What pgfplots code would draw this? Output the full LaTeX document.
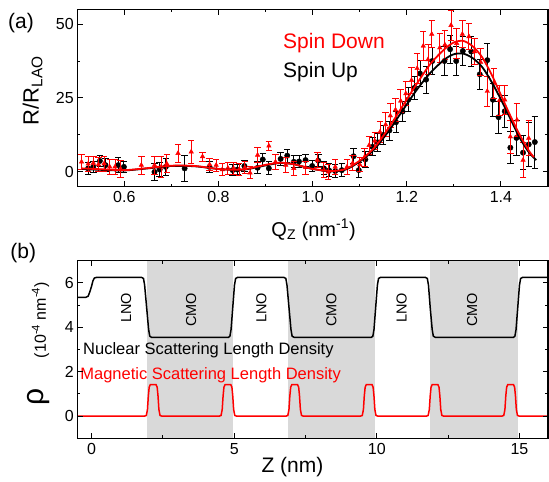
\documentclass[border=0pt]{standalone}
\usepackage{fontspec}
\setmainfont{Liberation Sans}
\usepackage{pgfplots}
\usepackage{pgfplotstable}
\pgfplotsset{compat=1.18}
\definecolor{band}{RGB}{217,217,217}

% spin up (black) reflectivity ratio
\pgfplotstableread{
q r e
0.523 1.2 2.0
0.534 1.7 2.0
0.548 3.7 2.0
0.560 2.3 2.2
0.587 2.3 2.5
0.599 1.7 2.0
0.664 0.0 2.8
0.675 0.8 2.5
0.688 1.7 3.0
0.728 1.2 4.4
0.781 1.7 2.0
0.830 0.6 1.8
0.840 0.8 1.8
0.855 2.0 1.8
0.883 1.4 2.0
0.894 4.2 2.0
0.907 1.2 2.2
0.932 4.4 2.2
0.946 5.5 2.2
0.960 3.4 2.0
0.971 3.5 2.0
0.985 4.0 2.0
0.999 2.0 2.0
1.012 3.8 2.0
1.024 1.2 2.2
1.035 0.5 2.2
1.048 0.3 2.2
1.062 0.6 2.2
1.087 5.3 2.5
1.098 0.6 2.5
1.112 4.2 2.8
1.127 8.5 3.0
1.138 10.0 3.0
1.150 12.5 3.2
1.163 14.0 3.2
1.177 16.8 3.5
1.191 20.4 3.5
1.203 24.4 4.0
1.216 28.4 4.0
1.228 33.3 4.5
1.241 31.2 4.5
1.254 37.5 4.5
1.280 37.5 4.8
1.292 41.5 4.8
1.305 37.5 4.8
1.319 40.9 5.0
1.337 40.7 5.0
1.355 33.0 5.0
1.371 37.8 5.5
1.383 24.4 5.5
1.395 18.5 5.5
1.408 20.5 5.5
1.420 8.2 5.5
1.433 11.5 6.0
1.447 6.5 5.7
1.459 9.3 7.4
1.472 10.1 8.8
}\spinup

% spin down (red)
\pgfplotstableread{
q r e
0.509 3.4 2.5
0.523 2.7 2.5
0.534 3.0 2.2
0.545 2.5 2.5
0.557 2.8 2.5
0.569 1.7 2.5
0.580 1.7 2.5
0.592 1.0 3.0
0.636 2.3 3.0
0.664 2.3 3.0
0.678 1.7 3.5
0.690 2.8 3.0
0.714 6.3 3.1
0.742 6.8 3.9
0.766 5.2 1.5
0.781 2.5 2.0
0.795 2.3 2.0
0.808 0.8 2.0
0.820 1.3 2.0
0.832 1.2 2.0
0.844 0.9 2.0
0.856 1.5 2.0
0.867 -0.3 2.0
0.883 5.7 2.5
0.907 8.8 1.6
0.921 3.4 2.5
0.943 2.3 2.5
0.960 1.2 2.5
0.985 1.5 2.2
1.010 4.0 2.5
1.024 0.6 2.5
1.033 0.0 2.5
1.048 1.7 2.5
1.073 1.7 2.5
1.085 3.0 2.5
1.100 2.5 2.5
1.110 5.0 3.0
1.120 9.0 3.0
1.132 10.5 3.0
1.143 13.5 3.5
1.155 16.0 4.0
1.165 19.0 4.0
1.176 21.0 4.0
1.187 24.0 4.0
1.198 26.5 4.0
1.210 31.0 4.5
1.222 35.0 5.0
1.235 42.6 5.0
1.245 38.0 5.0
1.253 46.6 4.5
1.270 42.0 5.0
1.281 43.0 5.0
1.294 49.6 5.0
1.306 43.5 5.0
1.318 46.6 4.5
1.332 45.8 4.5
1.344 40.7 4.5
1.357 37.1 4.5
1.371 27.3 5.0
1.385 30.0 5.0
1.397 24.2 5.0
1.408 24.4 5.0
1.420 11.9 5.5
1.434 17.6 5.5
1.447 4.0 6.0
1.459 11.4 6.0
}\spindown

\begin{document}
\begin{tikzpicture}
\useasboundingbox (0pt,0pt) rectangle (549pt,-482pt);
\pgfplotsset{
  every axis/.append style={
    scale only axis, width=470.7pt, anchor=north west,
    clip mode=individual,
    axis line style={line width=1.2pt},
    tick style={line width=1pt, black},
    major tick length=5.5pt, minor tick length=3pt,
    tick label style={font=\fontsize{16}{19}\selectfont},
    xticklabel style={yshift=-1.5pt},
    /pgf/number format/assume math mode=true,
  },
}

% ---------------- panel (a)
\begin{axis}[at={(77.3pt,-9.3pt)}, height=177.4pt,
  xmin=0.5, xmax=1.5, ymin=-5, ymax=55,
  xtick={0.6,0.8,1.0,1.2,1.4}, minor x tick num=1,
  ytick={0,25,50}, minor y tick num=1,
  xticklabel style={/pgf/number format/.cd, fixed, fixed zerofill, precision=1},
]
\addplot[black, only marks, mark=*, mark size=2.7pt,
  error bars/.cd, y dir=both, y explicit,
  error bar style={line width=0.9pt, black},
  error mark options={rotate=90, mark size=3.2pt, line width=0.9pt, black}]
  table[x=q, y=r, y error=e]{\spinup};
\addplot[red, only marks, mark=triangle*, mark size=2.6pt,
  error bars/.cd, y dir=both, y explicit,
  error bar style={line width=0.9pt, red},
  error mark options={rotate=90, mark size=3.2pt, line width=0.9pt, red}]
  table[x=q, y=r, y error=e]{\spindown};

% fits
\addplot[black, line width=1.8pt, smooth, no marks] coordinates {
(0.51,1.0) (0.55,0.7) (0.60,0.5) (0.65,1.2) (0.70,2.0) (0.75,1.9) (0.80,1.0)
(0.85,0.7) (0.90,2.2) (0.93,3.0) (0.96,2.6) (1.00,1.0) (1.04,0.2) (1.07,0.8)
(1.10,3.5) (1.13,7.5) (1.16,13.5) (1.19,20.5) (1.22,27.5) (1.25,33.5) (1.28,38.0)
(1.30,39.8) (1.32,40.0) (1.34,38.5) (1.36,35.5) (1.38,30.5) (1.40,24.5) (1.42,18.0)
(1.44,11.5) (1.46,6.5) (1.475,4.0)};
\addplot[red, line width=1.8pt, smooth, no marks] coordinates {
(0.51,1.2) (0.55,0.9) (0.60,0.6) (0.65,1.3) (0.70,2.1) (0.75,2.0) (0.80,1.0)
(0.85,0.8) (0.90,2.4) (0.93,3.1) (0.96,2.6) (1.00,1.0) (1.04,0.3) (1.07,1.0)
(1.10,3.8) (1.13,8.0) (1.16,14.5) (1.19,22.0) (1.22,29.5) (1.25,36.5) (1.28,41.5)
(1.30,43.8) (1.32,44.3) (1.34,42.5) (1.36,38.8) (1.38,33.0) (1.40,26.0) (1.42,19.0)
(1.44,12.5) (1.46,7.0) (1.47,5.0)};

\node[red, anchor=base west, font=\fontsize{21}{25}\selectfont] at (axis cs:0.93,41.8) {Spin Down};
\node[black, anchor=base west, font=\fontsize{21}{25}\selectfont] at (axis cs:0.93,31.8) {Spin Up};

\node[font=\fontsize{21}{25}\selectfont] at (axis description cs:-0.1196,0.923) {(a)};
\node[rotate=90, font=\fontsize{22}{26}\selectfont] at (axis description cs:-0.095,0.542) {R/R\textsubscript{LAO}};
\node[anchor=base, font=\fontsize{20}{24}\selectfont] at (axis description cs:0.502,-0.278) {Q\textsubscript{Z} (nm\textsuperscript{-1})};
\end{axis}

% ---------------- panel (b)
\begin{axis}[at={(77.3pt,-260.7pt)}, height=177.6pt,
  xmin=-0.5, xmax=16, ymin=-1, ymax=7,
  xtick={0,5,10,15}, minor x tick num=1,
  ytick={0,2,4,6}, minor y tick num=1,
  axis on top,
]
% CMO layers
\addplot[fill=band, draw=none] coordinates {(1.95,-1) (1.95,7) (4.95,7) (4.95,-1)} -- cycle;
\addplot[fill=band, draw=none] coordinates {(6.90,-1) (6.90,7) (9.95,7) (9.95,-1)} -- cycle;
\addplot[fill=band, draw=none] coordinates {(11.85,-1) (11.85,7) (14.95,7) (14.95,-1)} -- cycle;

% nuclear SLD
\addplot[black, line width=1.5pt, no marks] coordinates {
(-0.5,5.35) (-0.2,5.35) (-0.12,5.4) (-0.06,5.6) (0.0,5.85) (0.05,6.1) (0.1,6.22) (0.18,6.25)
(1.75,6.25) (1.82,6.2) (1.86,5.9) (1.93,4.9) (2.00,3.9) (2.04,3.6) (2.10,3.55)
(4.80,3.55) (4.85,3.6) (4.89,3.9) (4.95,4.9) (5.01,5.9) (5.05,6.2) (5.12,6.25)
(6.74,6.25) (6.81,6.2) (6.85,5.9) (6.92,4.9) (6.99,3.9) (7.03,3.6) (7.10,3.55)
(9.81,3.55) (9.86,3.6) (9.90,3.9) (9.96,4.9) (10.02,5.9) (10.06,6.2) (10.13,6.25)
(11.70,6.25) (11.77,6.2) (11.81,5.9) (11.87,4.9) (11.94,3.9) (11.98,3.6) (12.05,3.55)
(14.79,3.55) (14.84,3.6) (14.88,3.9) (14.94,4.9) (15.00,5.9) (15.04,6.2) (15.11,6.25)
(16.0,6.25)};

% magnetic SLD
\addplot[red, line width=1.5pt, no marks] coordinates {
(-0.5,0)
(1.86,0) (1.92,0.03) (1.96,0.3) (1.99,0.9) (2.02,1.3) (2.06,1.42) (2.26,1.42) (2.30,1.3) (2.33,0.9) (2.36,0.3) (2.40,0.03) (2.46,0)
(4.48,0) (4.54,0.03) (4.58,0.3) (4.61,0.9) (4.64,1.3) (4.68,1.42) (4.88,1.42) (4.92,1.3) (4.95,0.9) (4.98,0.3) (5.02,0.03) (5.08,0)
(6.82,0) (6.88,0.03) (6.92,0.3) (6.95,0.9) (6.98,1.3) (7.02,1.42) (7.22,1.42) (7.26,1.3) (7.29,0.9) (7.32,0.3) (7.36,0.03) (7.42,0)
(9.43,0) (9.49,0.03) (9.53,0.3) (9.56,0.9) (9.59,1.3) (9.63,1.42) (9.83,1.42) (9.87,1.3) (9.90,0.9) (9.93,0.3) (9.97,0.03) (10.03,0)
(11.74,0) (11.80,0.03) (11.84,0.3) (11.87,0.9) (11.90,1.3) (11.94,1.42) (12.14,1.42) (12.18,1.3) (12.21,0.9) (12.24,0.3) (12.28,0.03) (12.34,0)
(14.39,0) (14.45,0.03) (14.49,0.3) (14.52,0.9) (14.55,1.3) (14.59,1.42) (14.79,1.42) (14.83,1.3) (14.86,0.9) (14.89,0.3) (14.93,0.03) (14.99,0)
(16.0,0)};

\foreach \zx/\lab in {1.21/LNO, 3.49/CMO, 5.95/LNO, 8.41/CMO, 10.87/LNO, 13.34/CMO} {
  \edef\tmp{\noexpand\node[rotate=90, anchor=east, font=\noexpand\fontsize{14.5}{17}\noexpand\selectfont] at (axis cs:\zx,5.7) {\lab};}
  \tmp
}
\node[anchor=base west, font=\fontsize{16.5}{19}\selectfont, inner sep=0pt] at (axis cs:-0.3,2.78) {Nuclear Scattering Length Density};
\node[red, anchor=base west, font=\fontsize{16.5}{19}\selectfont, inner sep=0pt] at (axis cs:-0.4,1.63) {Magnetic Scattering Length Density};

\node[font=\fontsize{21}{25}\selectfont] at (axis description cs:-0.115,1.043) {(b)};
\node[rotate=90, font=\fontsize{30}{34}\selectfont] at (axis description cs:-0.0818,0.2326) {ρ};
\node[rotate=90, font=\fontsize{16}{19}\selectfont] at (axis description cs:-0.078,0.666) {(10\textsuperscript{-4} nm\textsuperscript{-4})};
\node[anchor=base, font=\fontsize{21}{25}\selectfont] at (axis description cs:0.457,-0.195) {Z (nm)};
\end{axis}
\end{tikzpicture}
\end{document}
